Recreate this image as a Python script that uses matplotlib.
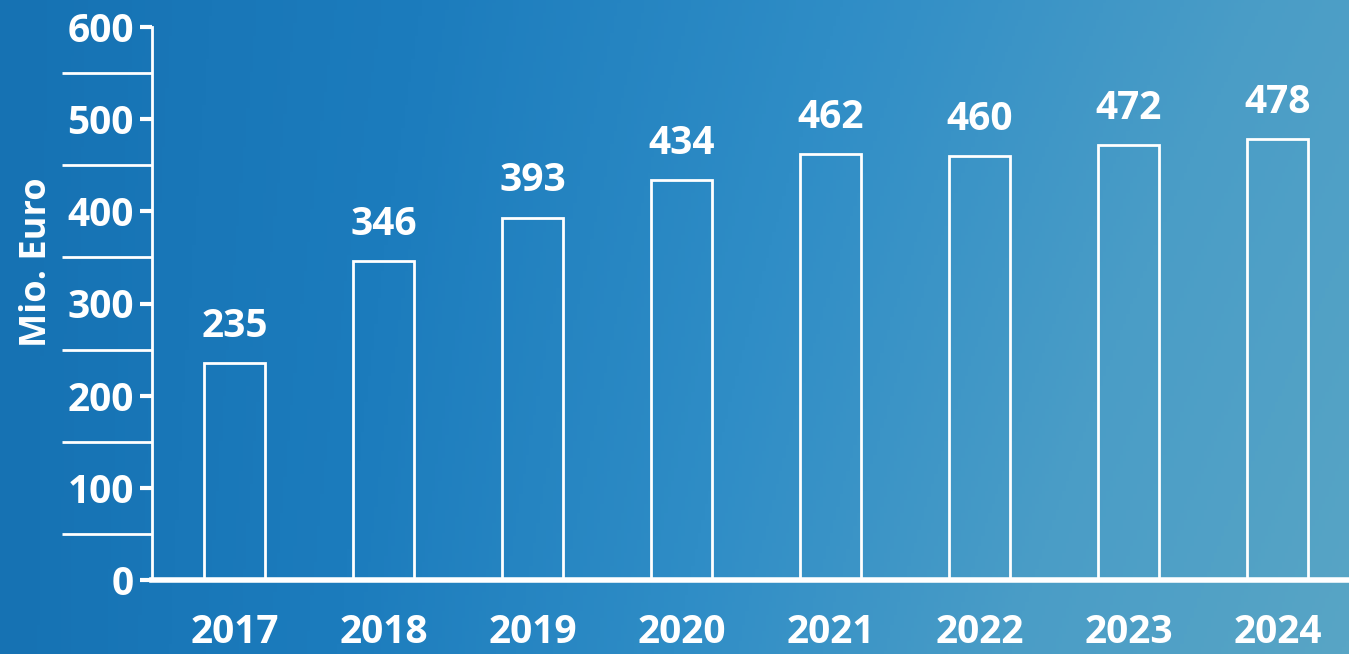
import numpy as np
import matplotlib
matplotlib.use("Agg")
import matplotlib.pyplot as plt
from matplotlib.colors import LinearSegmentedColormap

years = ["2017", "2018", "2019", "2020", "2021", "2022", "2023", "2024"]
values = [235, 346, 393, 434, 462, 460, 472, 478]
y_ticks = [0, 100, 200, 300, 400, 500, 600]
y_minor = [50, 150, 250, 350, 450, 550]

plt.rcParams["font.family"] = ["Open Sans", "DejaVu Sans"]
plt.rcParams["font.weight"] = "bold"

fig = plt.figure(figsize=(13.49, 6.54), dpi=100)

# background: blue gradient standing in for the photo
bg = fig.add_axes([0, 0, 1, 1], zorder=0)
cmap = LinearSegmentedColormap.from_list(
    "bg", ["#1672b3", "#1c7cbd", "#2f8dc6", "#4a9dc7", "#58a5c5"])
gx = np.linspace(0, 1, 400)
gy = np.linspace(0, 1, 200)
GX, GY = np.meshgrid(gx, gy)
grad = 0.8 * GX + 0.2 * (1 - GY) * GX
bg.imshow(grad, cmap=cmap, aspect="auto", extent=[0, 1, 0, 1], origin="lower")
bg.axis("off")

ax = fig.add_axes([152 / 1349, 74 / 654, 1 - 152 / 1349, 553 / 654], zorder=1)
ax.patch.set_alpha(0)

x = np.arange(len(years))
ax.bar(x, values, width=0.41, facecolor="none", edgecolor="white", linewidth=2)

for xi, v in zip(x, values):
    ax.annotate(str(v), (xi, v), xytext=(0, 19), textcoords="offset points",
                ha="center", va="baseline", color="white",
                fontsize=28, fontweight="bold")

ax.set_xlim(-0.557, 7.48)
ax.set_ylim(0, 600)

for s in ["top", "right"]:
    ax.spines[s].set_visible(False)
ax.spines["left"].set_color("white")
ax.spines["left"].set_linewidth(2)
ax.spines["bottom"].set_color("white")
ax.spines["bottom"].set_linewidth(4)

ax.set_yticks(y_ticks)
ax.set_yticks(y_minor, minor=True)
ax.tick_params(axis="y", which="major", length=9, width=3, color="white",
               labelcolor="white", labelsize=28, pad=4)
ax.tick_params(axis="y", which="minor", length=65, width=2, color="white")
ax.set_xticks(x, years)
ax.tick_params(axis="x", length=0, labelcolor="white", labelsize=28, pad=24)
for lab in ax.get_xticklabels() + ax.get_yticklabels():
    lab.set_fontweight("bold")

ax.set_ylabel("Mio. Euro", color="white", fontsize=26, fontweight="bold")
ax.yaxis.set_label_coords(-0.081, 0.575)

fig.savefig("out.png", dpi=100)
